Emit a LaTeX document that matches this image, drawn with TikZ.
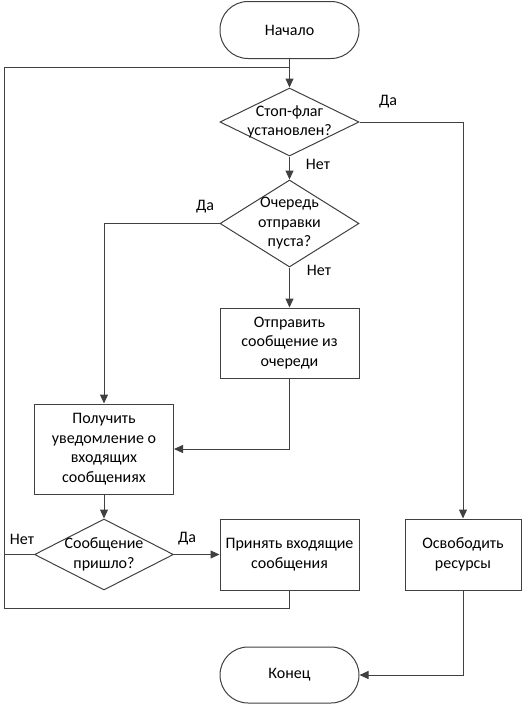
\documentclass[tikz,border=0pt]{standalone}
\usepackage{fontspec}
\setmainfont{Carlito}
\usetikzlibrary{arrows.meta, positioning, shapes.geometric}

\begin{document}
\begin{tikzpicture}[
        x=1pt, y=-1pt,
        every node/.style={font=\fontsize{16}{19.5}\selectfont},
        terminal/.style={draw=black!75, line width=1pt, rounded corners=28pt, minimum width=139pt, minimum height=57pt, inner sep=0pt},
        process/.style={draw=black!75, line width=1pt, minimum width=139pt, minimum height=71pt, align=center, inner sep=0pt},
        decision/.style={draw=black!75, line width=1pt, diamond, minimum width=139pt, inner sep=0pt},
        arrow/.style={-{Triangle[length=9pt, width=8pt]}, line width=1pt, draw=black!75},
        line/.style={line width=1pt, draw=black!75}
    ]
        \useasboundingbox (0,0) rectangle (531,705);

        % Start / end
        \node[terminal] (start) at (289.5,30) {Начало};
        \node[terminal, minimum height=56pt] (end) at (289.5,675) {Конец};

        % Conditions
        \node[decision, minimum height=68pt, label={[align=center]center:Стоп-флаг\\установлен?}] (stop) at (289.5,122) {};
        \node[decision, minimum height=87pt, label={[align=center]center:Очередь\\отправки\\пуста?}] (queue) at (289.5,223.5) {};
        \node[decision, minimum height=71pt, label={[align=center]center:Сообщение\\пришло?}] (got) at (104,554.5) {};

        % Actions
        \node[process, minimum height=70pt] (send) at (289.5,343) {Отправить\\сообщение из\\очереди};
        \node[process, minimum height=90pt] (notify) at (104,449) {Получить\\уведомление о\\входящих\\сообщениях};
        \node[process] (recv) at (289.5,554.5) {Принять входящие\\сообщения};
        \node[process, minimum width=116pt] (free) at (463,554.5) {Освободить\\ресурсы};

        % Loop corners
        \coordinate (loopT) at (4,67);
        \coordinate (loopB) at (4,608);

        % Answers
        \node (yes1) at (388,102) {Да};
        \node (no1) at (318,164) {Нет};
        \node (yes2) at (205,207) {Да};
        \node (no2) at (319,270) {Нет};
        \node (no3) at (22,539) {Нет};
        \node (yes3) at (187,539) {Да};

        \draw[arrow] (start) -- (stop);
        \draw[arrow] (stop.east) -| (free.north);
        \draw[arrow] (stop) -- (queue);
        \draw[arrow] (queue.west) -| (notify.north);
        \draw[arrow] (queue) -- (send);
        \draw[arrow] (send.south) |- (notify.east);
        \draw[arrow] (notify) -- (got);
        \draw[arrow] (got.east) -- (recv.west);
        \draw[line] (got.west) -- (got.west -| loopB);
        \draw[line] (recv.south) |- (loopB) -- (loopT) -- (loopT -| stop.north);
        \draw[arrow] (free.south) |- (end.east);

    \end{tikzpicture}
\end{document}
